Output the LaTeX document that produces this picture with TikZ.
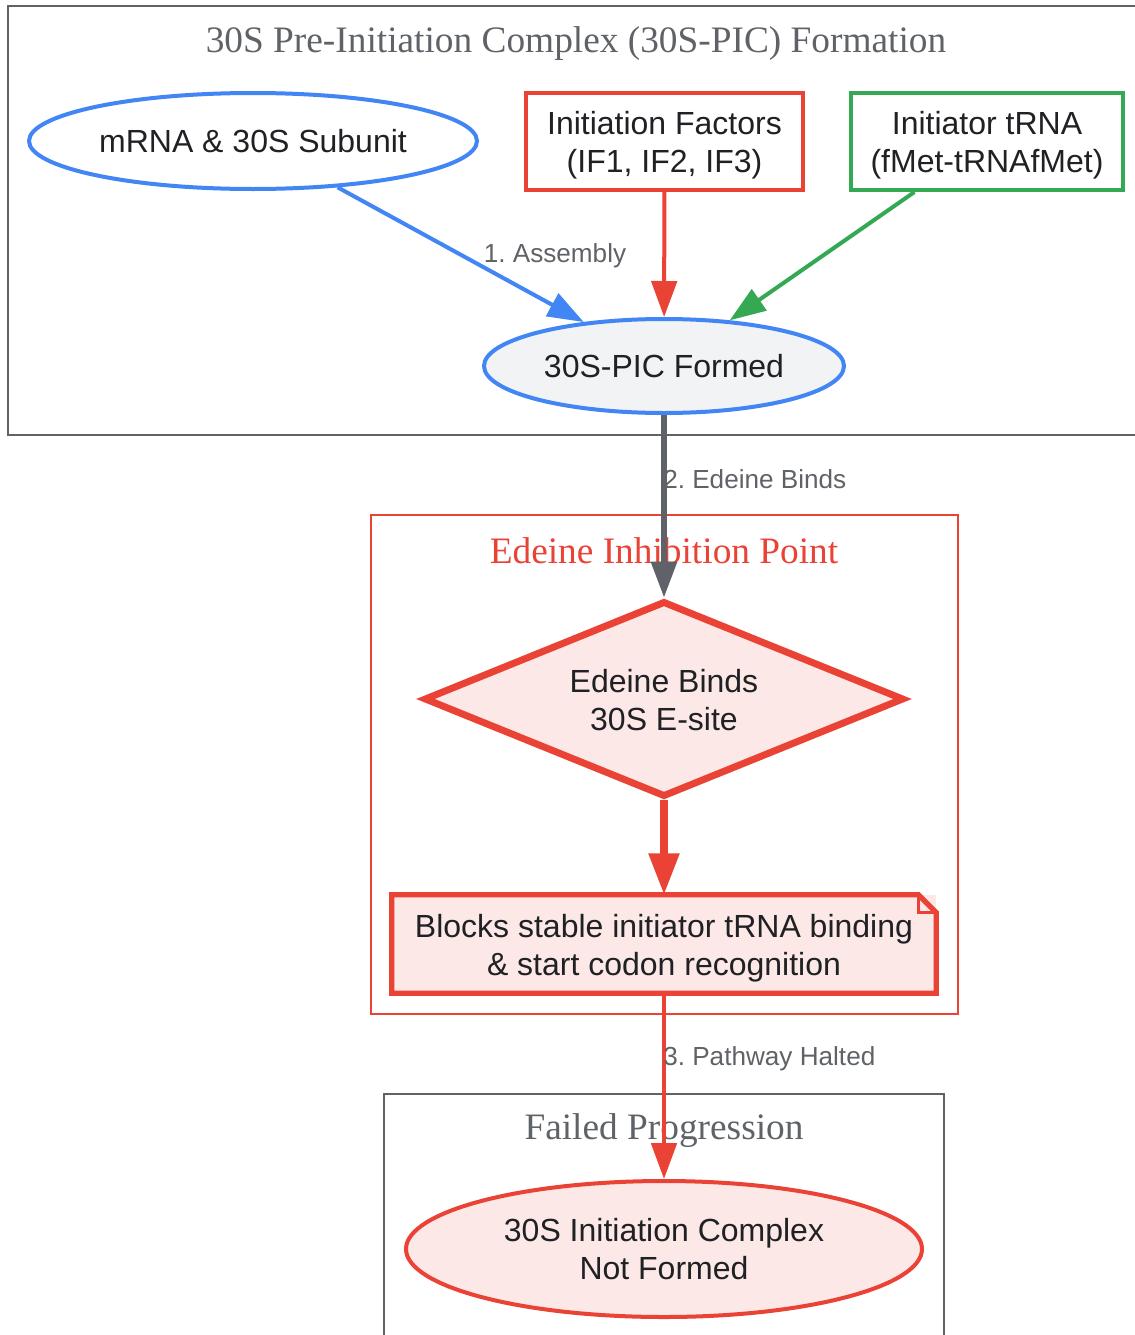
\documentclass[tikz,border=0pt]{standalone}
\usepackage{fontspec}
\setmainfont{Liberation Sans}
\newfontfamily\titlefont{Liberation Serif}
\usetikzlibrary{shapes.geometric,arrows.meta}
\frenchspacing
\definecolor{gblue}{HTML}{4285F4}
\definecolor{gred}{HTML}{EA4335}
\definecolor{ggreen}{HTML}{34A853}
\definecolor{ggray}{HTML}{5F6368}
\definecolor{glight}{HTML}{F1F3F4}
\definecolor{gpink}{HTML}{FCE8E6}
\definecolor{gtext}{HTML}{202124}
\tikzset{
  nodetext/.style={text=gtext, font=\fontsize{24}{28.5}\selectfont, align=center, inner sep=0pt},
  ovalnode/.style={nodetext, ellipse, line width=3pt},
  boxnode/.style={rectangle, line width=3pt, inner sep=0pt},
  clusterbox/.style={line width=1.5pt},
  clustertitle/.style={font=\titlefont\fontsize{28}{32}\selectfont, inner sep=0pt},
  lbl/.style={text=ggray, font=\fontsize{19.6}{23}\selectfont, inner sep=0pt},
  arr/.style={line width=3pt, -{Triangle[length=27pt,width=19pt]}},
  thickarr/.style={line width=5.5pt, -{Triangle[length=31pt,width=22pt]}},
}
\begin{document}
\frenchspacing
\begin{tikzpicture}[x=0.75pt,y=-0.75pt]
\useasboundingbox (0,0) rectangle (1135,1335);
\clip (0,0) rectangle (1135,1335);
\fill[white] (0,0) rectangle (1135,1335);

% clusters
\draw[clusterbox, ggray] (8,6) rectangle (1150,435);
\node[clustertitle, text=ggray] (t1) at (576,44) {30S Pre-Initiation Complex (30S-PIC) Formation};
\draw[clusterbox, gred] (371,515) rectangle (958,1014);
\node[clustertitle, text=gred] (t2) at (664,551) {Edeine Inhibition Point};
\draw[clusterbox, ggray] (384,1094) rectangle (944,1350);
\node[clustertitle, text=ggray] (t3) at (664,1131) {Failed Progression};

% nodes
\node[ovalnode, draw=gblue, fill=white, minimum width=336pt, minimum height=72pt] (mrna) at (253,141) {mRNA \& 30S Subunit};
\node[boxnode, draw=gred, fill=white, minimum width=207.75pt, minimum height=72.75pt] (if) at (664.5,141.5) {};
\node[nodetext] (iftxt) at ([yshift=-2.8pt]if.center) {Initiation Factors\\(IF1, IF2, IF3)};
\node[boxnode, draw=ggreen, fill=white, minimum width=204pt, minimum height=72.75pt] (trna) at (987,141.5) {};
\node[nodetext] (trnatxt) at ([yshift=-2.8pt]trna.center) {Initiator tRNA\\(fMet-tRNAfMet)};
\node[ovalnode, draw=gblue, fill=glight, minimum width=270pt, minimum height=70.5pt] (pic) at (664,366) {30S-PIC Formed};
\node[diamond, draw=gred, fill=gpink, line width=5.2pt, inner sep=0pt, minimum width=360pt, minimum height=147pt] (ed) at (664,699) {};
\node[nodetext] (edtxt) at ([yshift=-0.8pt]ed.center) {Edeine Binds\\30S E-site};
\node[rectangle, fill=gpink, inner sep=0pt, minimum width=408pt, minimum height=73.5pt] (note) at (664,944) {};
\draw[gred, line width=4pt, line join=miter]
  ([xshift=-13.5pt]note.north east) -- (note.north west) -- (note.south west) -- (note.south east) -- ([yshift=-13.5pt]note.north east) -- cycle;
\draw[gred, line width=2pt]
  ([xshift=-13.5pt]note.north east) -- ([xshift=-13.5pt,yshift=-13.5pt]note.north east) -- ([yshift=-13.5pt]note.north east);
\node[nodetext] (notetxt) at ([yshift=-2.8pt]note.center) {Blocks stable initiator tRNA binding\\\& start codon recognition};
\node[ovalnode, draw=gred, fill=gpink, minimum width=387pt, minimum height=102pt] (fail) at (664,1249) {30S Initiation Complex\\Not Formed};

% connectors
\draw[arr, gblue] (mrna) -- (pic);
\draw[arr, gred] (if) -- (pic);
\draw[arr, ggreen] (trna) -- (pic);
\draw[arr, ggray, line width=4pt] (pic) -- (ed);
\draw[thickarr, gred] (ed) -- (note);
\draw[arr, gred] (note) -- (fail);

% labels
\node[lbl] (l1) at (555,256) {1. Assembly};
\node[lbl, anchor=west] (l2) at (663,479) {2. Edeine Binds};
\node[lbl, anchor=west] (l3) at (663,1059) {3. Pathway Halted};
\end{tikzpicture}
\end{document}
